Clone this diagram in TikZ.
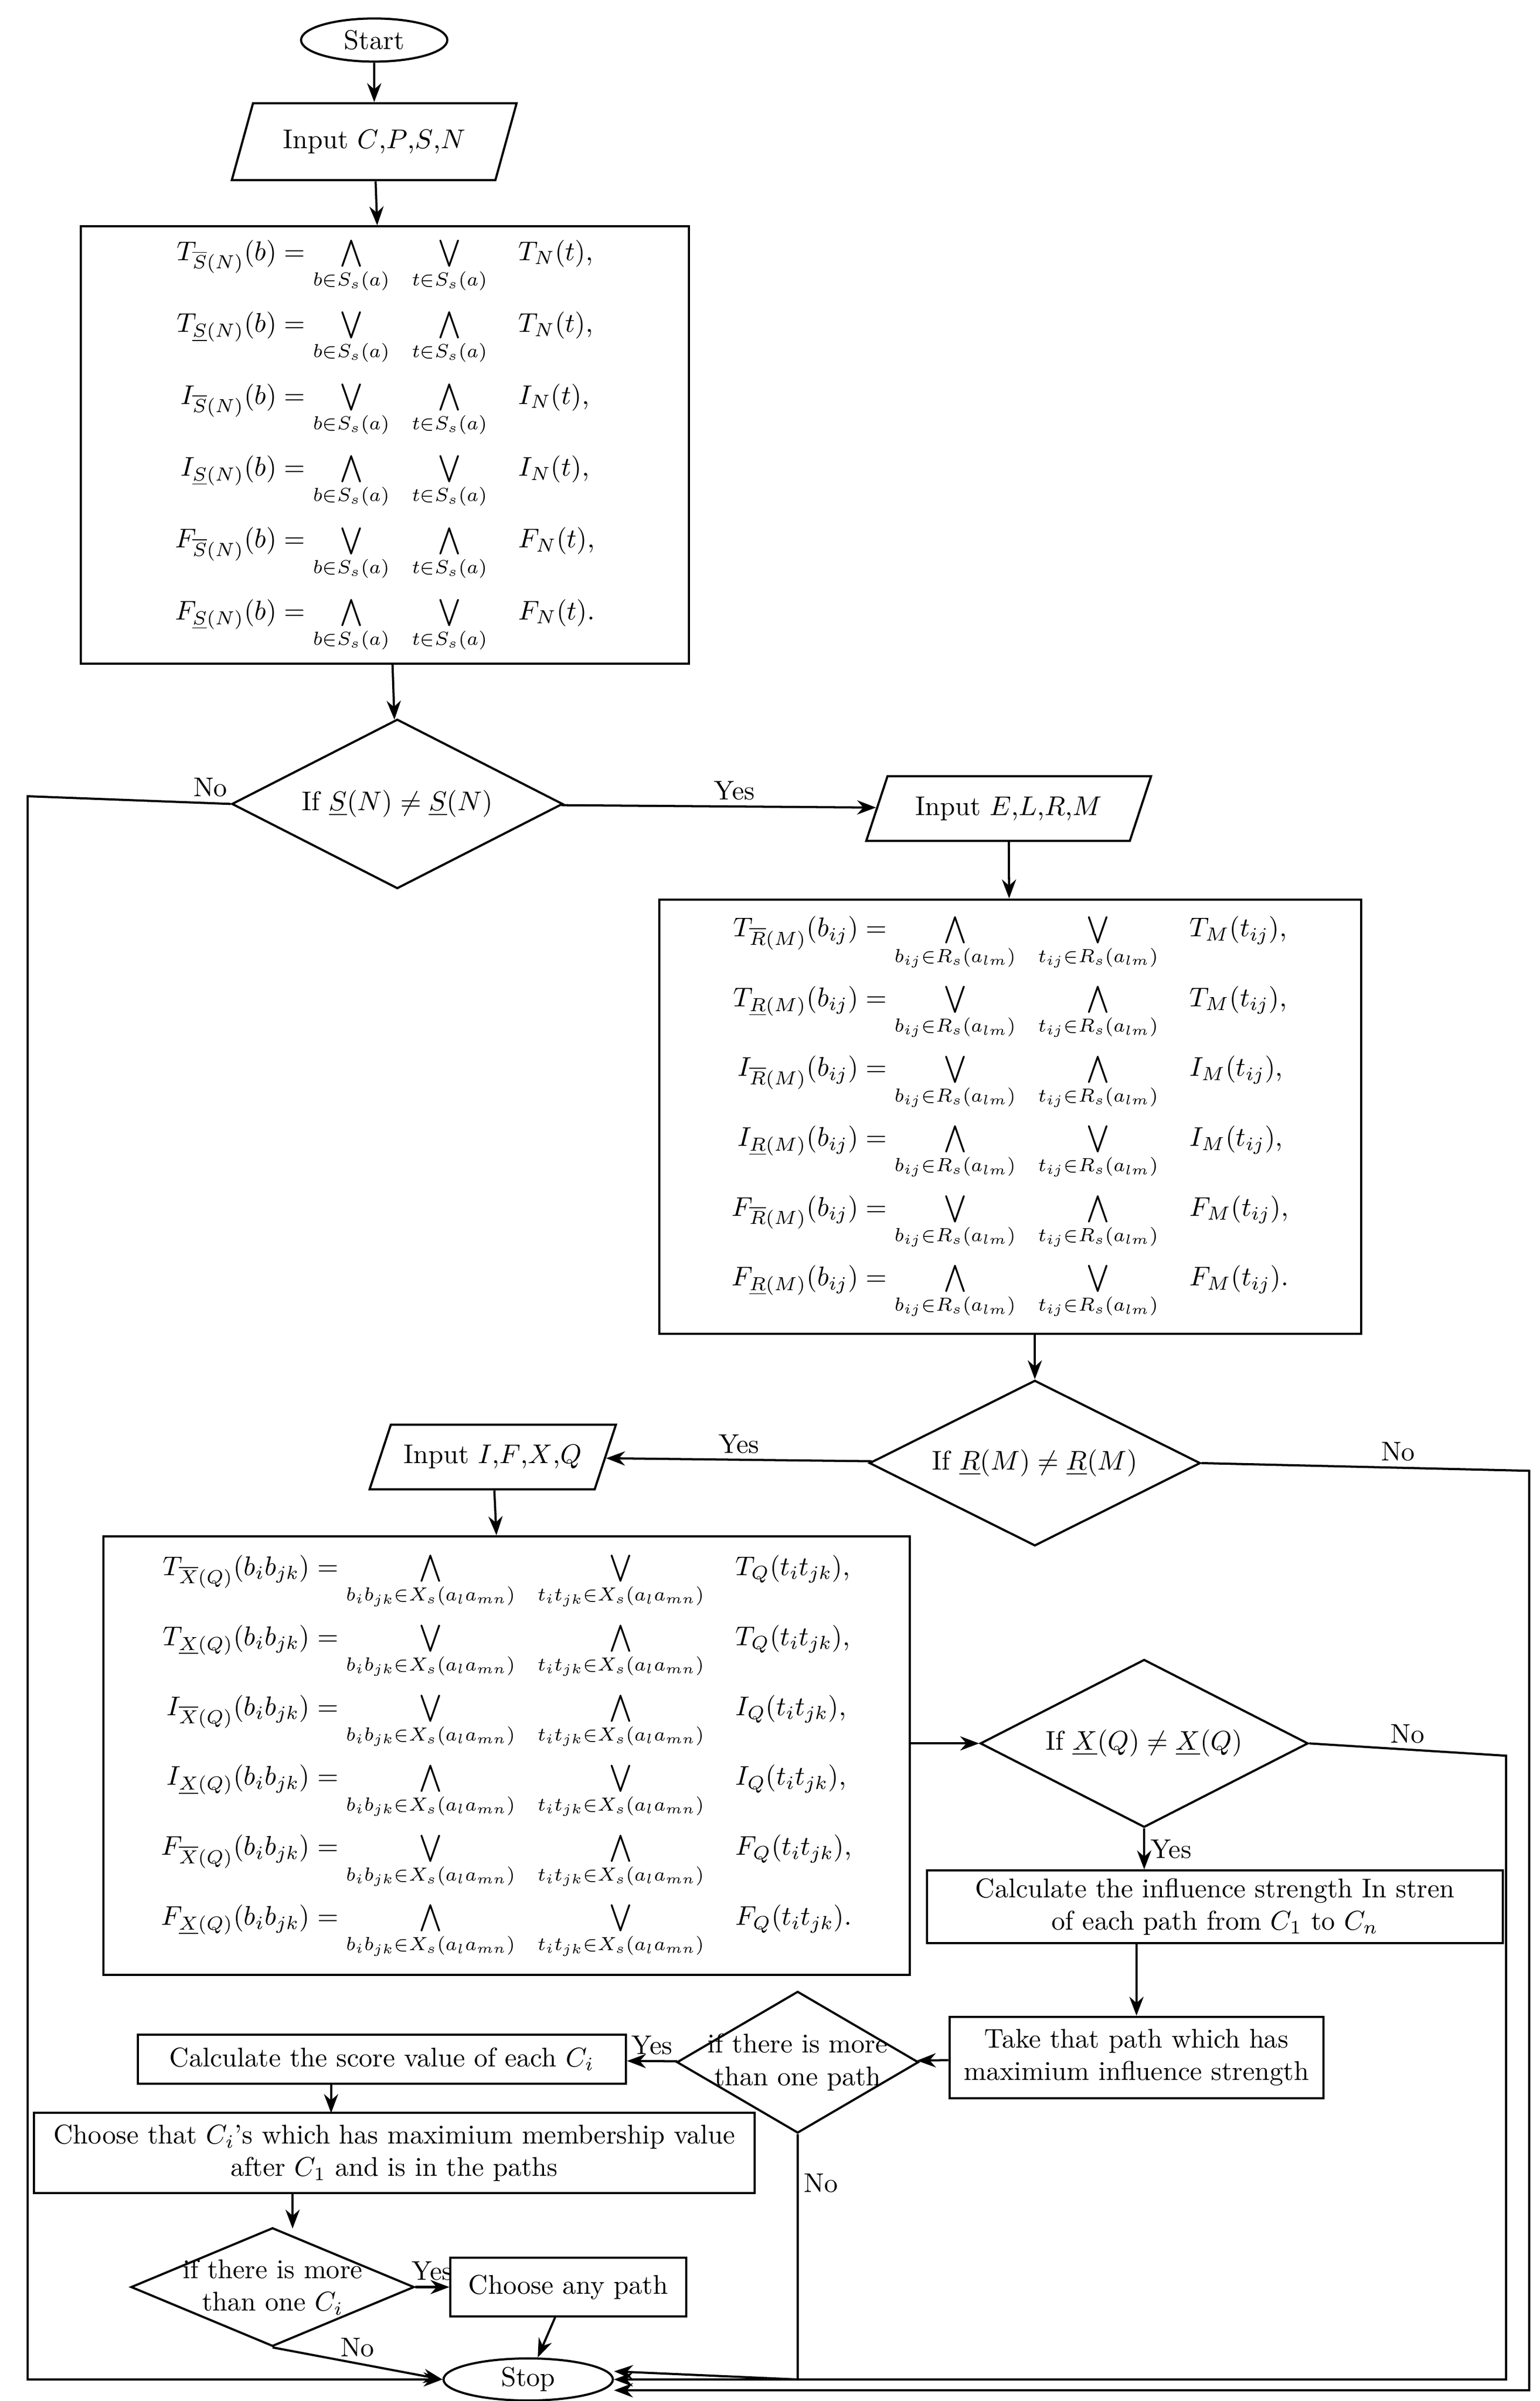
\documentclass[tikz,border=0pt]{standalone}
\usepackage{amsmath,amssymb}
\usepackage{tikz}
\usetikzlibrary{shapes.geometric, arrows.meta}

\newcommand{\bw}[1]{\mathop{\textstyle\bigwedge}\limits_{#1}}
\newcommand{\bv}[1]{\mathop{\textstyle\bigvee}\limits_{#1}}

\begin{document}
\begin{tikzpicture}[x=0.02cm, y=-0.02cm,
    box/.style = {rectangle, draw, thick, inner sep=2pt, align=center},
    io/.style = {trapezium, trapezium left angle=62, trapezium right angle=118, draw, thick, inner sep=3pt, trapezium stretches body},
    decision/.style = {diamond, draw, thick, inner sep=0pt},
    term/.style = {ellipse, draw, thick, inner sep=1pt},
    line/.style = {draw, thick, -{Stealth[length=7pt]}},
    lbl/.style = {inner sep=2pt}]
    \useasboundingbox (0,0) rectangle (1000,1559);
    % Nodes
    \node [term, minimum width=1.9cm, minimum height=0.56cm] (start) at (243,26) {Start};
    \node [io, minimum width=3.7cm, minimum height=1cm] (input1) at (243,92) {Input $C$,$P$,$S$,$N$};
    \node [box, minimum width=7.9cm, minimum height=5.68cm] (rough1) at (250,289) {$
        \begin{aligned}
        T_{\overline{S}(N)}(b) &= \bw{b\in S_s(a)}\ \ \bv{t\in S_s(a)}\quad T_N(t),\\[2pt]
        T_{\underline{S}(N)}(b) &= \bv{b\in S_s(a)}\ \ \bw{t\in S_s(a)}\quad T_N(t),\\[2pt]
        I_{\overline{S}(N)}(b) &= \bv{b\in S_s(a)}\ \ \bw{t\in S_s(a)}\quad I_N(t),\\[2pt]
        I_{\underline{S}(N)}(b) &= \bw{b\in S_s(a)}\ \ \bv{t\in S_s(a)}\quad I_N(t),\\[2pt]
        F_{\overline{S}(N)}(b) &= \bv{b\in S_s(a)}\ \ \bw{t\in S_s(a)}\quad F_N(t),\\[2pt]
        F_{\underline{S}(N)}(b) &= \bw{b\in S_s(a)}\ \ \bv{t\in S_s(a)}\quad F_N(t).
        \end{aligned}$};
    \node [decision, minimum width=4.3cm, minimum height=2.2cm] (check1) at (258,522) {};
    \node at (check1) {If $\underline{S}(N)\neq\underline{S}(N)$};
    \node [io, minimum width=3.7cm, minimum height=0.84cm] (input2) at (655,525) {Input $E$,$L$,$R$,$M$};
    \node [box, minimum width=9.12cm, minimum height=5.64cm] (rough2) at (656,725) {$
        \begin{aligned}
        T_{\overline{R}(M)}(b_{ij}) &= \bw{b_{ij}\in R_s(a_{lm})}\ \ \bv{t_{ij}\in R_s(a_{lm})}\quad T_M(t_{ij}),\\[1pt]
        T_{\underline{R}(M)}(b_{ij}) &= \bv{b_{ij}\in R_s(a_{lm})}\ \ \bw{t_{ij}\in R_s(a_{lm})}\quad T_M(t_{ij}),\\[1pt]
        I_{\overline{R}(M)}(b_{ij}) &= \bv{b_{ij}\in R_s(a_{lm})}\ \ \bw{t_{ij}\in R_s(a_{lm})}\quad I_M(t_{ij}),\\[1pt]
        I_{\underline{R}(M)}(b_{ij}) &= \bw{b_{ij}\in R_s(a_{lm})}\ \ \bv{t_{ij}\in R_s(a_{lm})}\quad I_M(t_{ij}),\\[1pt]
        F_{\overline{R}(M)}(b_{ij}) &= \bv{b_{ij}\in R_s(a_{lm})}\ \ \bw{t_{ij}\in R_s(a_{lm})}\quad F_M(t_{ij}),\\[1pt]
        F_{\underline{R}(M)}(b_{ij}) &= \bw{b_{ij}\in R_s(a_{lm})}\ \ \bv{t_{ij}\in R_s(a_{lm})}\quad F_M(t_{ij}).
        \end{aligned}$};
    \node [decision, minimum width=4.3cm, minimum height=2.15cm] (check2) at (672,950) {};
    \node at (check2) {If $\underline{R}(M)\neq\underline{R}(M)$};
    \node [io, minimum width=3.2cm, minimum height=0.84cm] (input3) at (320,946) {Input $I$,$F$,$X$,$Q$};
    \node [box, minimum width=10.48cm, minimum height=5.7cm] (rough3) at (329,1140) {$
        \begin{aligned}
        T_{\overline{X}(Q)}(b_ib_{jk}) &= \bw{b_ib_{jk}\in X_s(a_la_{mn})}\ \ \bv{t_it_{jk}\in X_s(a_la_{mn})}\quad T_Q(t_it_{jk}),\\[1pt]
        T_{\underline{X}(Q)}(b_ib_{jk}) &= \bv{b_ib_{jk}\in X_s(a_la_{mn})}\ \ \bw{t_it_{jk}\in X_s(a_la_{mn})}\quad T_Q(t_it_{jk}),\\[1pt]
        I_{\overline{X}(Q)}(b_ib_{jk}) &= \bv{b_ib_{jk}\in X_s(a_la_{mn})}\ \ \bw{t_it_{jk}\in X_s(a_la_{mn})}\quad I_Q(t_it_{jk}),\\[1pt]
        I_{\underline{X}(Q)}(b_ib_{jk}) &= \bw{b_ib_{jk}\in X_s(a_la_{mn})}\ \ \bv{t_it_{jk}\in X_s(a_la_{mn})}\quad I_Q(t_it_{jk}),\\[1pt]
        F_{\overline{X}(Q)}(b_ib_{jk}) &= \bv{b_ib_{jk}\in X_s(a_la_{mn})}\ \ \bw{t_it_{jk}\in X_s(a_la_{mn})}\quad F_Q(t_it_{jk}),\\[1pt]
        F_{\underline{X}(Q)}(b_ib_{jk}) &= \bw{b_ib_{jk}\in X_s(a_la_{mn})}\ \ \bv{t_it_{jk}\in X_s(a_la_{mn})}\quad F_Q(t_it_{jk}).
        \end{aligned}$};
    \node [decision, minimum width=4.26cm, minimum height=2.18cm] (check3) at (743,1132) {};
    \node at (check3) {If $\underline{X}(Q)\neq\underline{X}(Q)$};
    \node [box, minimum width=7.48cm, minimum height=0.94cm] (strength) at (789,1238) {Calculate the influence strength In stren\\of each path from $C_1$ to $C_n$};
    \node [box, minimum width=4.86cm, minimum height=1.06cm] (maxpath) at (738,1336) {Take that path which has\\maximium influence strength};
    \node [decision, minimum width=3.14cm, minimum height=1.84cm] (check4) at (518,1339) {};
    \node [align=center] at (check4) {if there is more\\than one path};
    \node [box, minimum width=6.34cm, minimum height=0.64cm] (score) at (248,1337) {Calculate the score value of each $C_i$};
    \node [box, minimum width=9.36cm, minimum height=1.04cm] (choose) at (256,1398) {Choose that $C_i$'s which has maximium membership value\\after $C_1$ and is in the paths};
    \node [decision, minimum width=3.68cm, minimum height=1.54cm] (check5) at (177,1485) {};
    \node [align=center] at (check5) {if there is more\\than one $C_i$};
    \node [box, minimum width=3.06cm, minimum height=0.76cm] (anypath) at (369,1485) {Choose any path};
    \node [term, minimum width=2.2cm, minimum height=0.52cm] (stop) at (343,1545) {Stop};
    \coordinate (leftcorner) at (18,517);
    \coordinate (rightcorner2) at (993,955);
    \coordinate (rightcorner3) at (978,1140);

    % Arrows
    \path [line] (start) -- (input1);
    \path [line] (input1) -- (rough1);
    \path [line] (rough1) -- (check1);
    \path [line] (check1) -- node [lbl, pos=0.55, above] {Yes} (input2);
    \path [line] (check1.west) -- node [lbl, pos=0.1, above] {No} (leftcorner) |- (stop.west);
    \path [line] (input2) -- (rough2);
    \path [line] (rough2.south -| check2) -- (check2);
    \path [line] (check2) -- node [lbl, above] {Yes} (input3);
    \path [line] (check2.east) -- node [lbl, pos=0.6, above] {No} (rightcorner2) |- ([yshift=-4pt]stop.east);
    \path [line] (input3) -- (rough3);
    \path [line] (rough3.east |- check3) -- (check3);
    \path [line] (check3.east) -- node [lbl, pos=0.5, above] {No} (rightcorner3) |- (stop.east);
    \path [line] (check3.south) -- node [lbl, pos=0.5, right] {Yes} (check3.south |- strength.north);
    \path [line] (strength.south -| maxpath.north) -- (maxpath);
    \path [line] (maxpath) -- (check4);
    \path [line] (check4) -- node [lbl, above] {Yes} (score);
    \path [line] (check4.south) -- node [lbl, pos=0.2, right] {No} (check4.south |- stop) -- ([yshift=3pt]stop.east);
    \path [line] (score.south -| 215,0) -- (215,1372);
    \path [line] (choose.south -| 190,0) -- (190,1447);
    \path [line] (check5) -- node [lbl, above] {Yes} (anypath);
    \path [line] (check5.south) -- node [lbl, pos=0.5, above] {No} (stop.west);
    \path [line] (anypath) -- (stop);
\end{tikzpicture}
\end{document}
